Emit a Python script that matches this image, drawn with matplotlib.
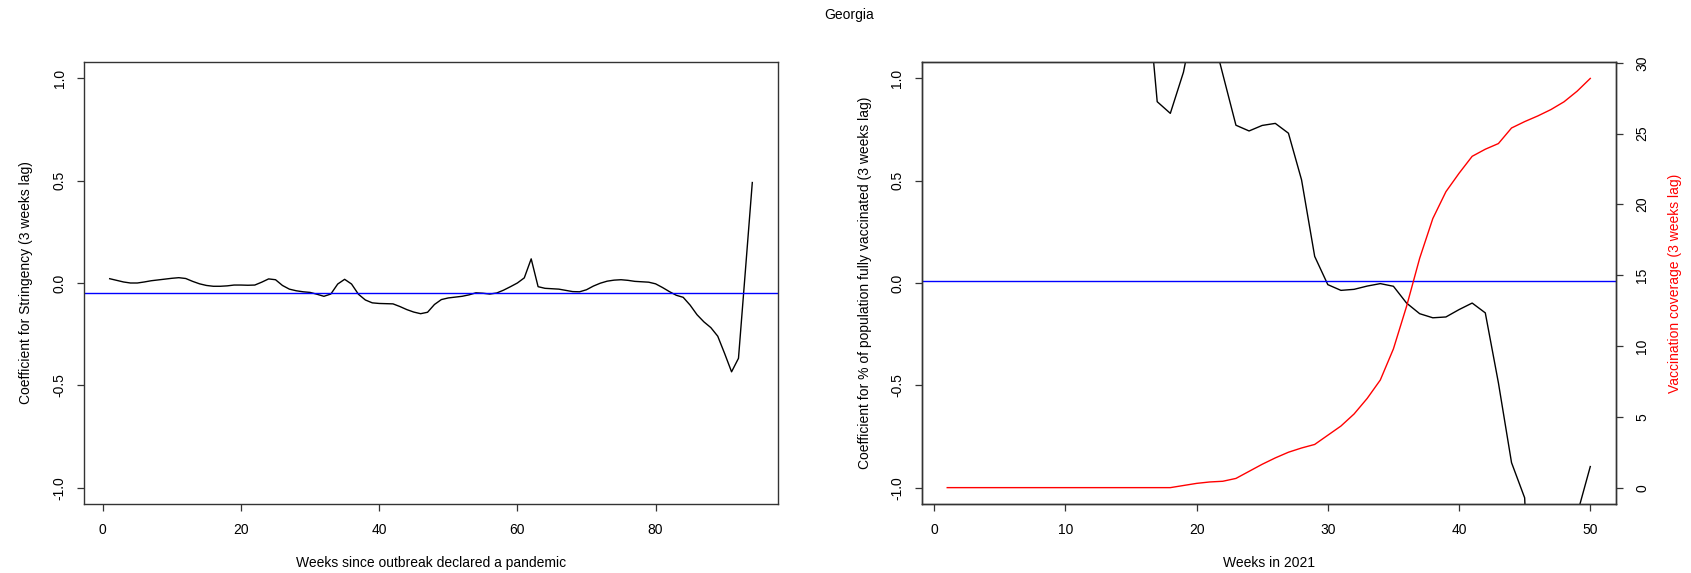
import numpy as np
import matplotlib
matplotlib.use("Agg")
import matplotlib.pyplot as plt

plt.rcParams["font.family"] = ["Liberation Sans", "DejaVu Sans"]
plt.rcParams["axes.unicode_minus"] = False
plt.rcParams["font.size"] = 10

country = "Georgia"

# weekly stringency coefficient since the pandemic declaration
weeks_pandemic = np.arange(1, 95)
stringency_coef = [
    0.021, 0.013, 0.005, 0.000, 0.000, 0.005, 0.011, 0.015, 0.019, 0.023,
    0.026, 0.022, 0.008, -0.004, -0.012, -0.016, -0.016, -0.014, -0.010, -0.010,
    -0.011, -0.010, 0.004, 0.020, 0.016, -0.012, -0.030, -0.038, -0.043, -0.046,
    -0.055, -0.065, -0.054, -0.005, 0.018, -0.005, -0.055, -0.083, -0.097, -0.100,
    -0.101, -0.102, -0.115, -0.130, -0.142, -0.150, -0.143, -0.105, -0.081, -0.073,
    -0.069, -0.065, -0.058, -0.048, -0.050, -0.054, -0.049, -0.035, -0.018, 0.000,
    0.025, 0.118, -0.018, -0.026, -0.028, -0.030, -0.036, -0.042, -0.043, -0.033,
    -0.015, -0.001, 0.009, 0.014, 0.016, 0.013, 0.008, 0.006, 0.004, -0.004,
    -0.022, -0.042, -0.060, -0.070, -0.108, -0.155, -0.190, -0.218, -0.260, -0.345,
    -0.434, -0.368, 0.060, 0.491,
]
stringency_mean = -0.049

# weekly vaccination coefficient and coverage in 2021
weeks_2021 = np.arange(1, 51)
vacc_coef = [
    2.5, 2.8, 3.0, 2.6, 2.2, 2.4, 2.9, 3.1, 2.7, 2.3,
    2.0, 2.2, 2.5, 2.3, 1.9, 1.6, 0.886, 0.829, 1.03, 1.35,
    1.27, 1.02, 0.771, 0.743, 0.770, 0.780, 0.732, 0.504, 0.130, -0.008,
    -0.036, -0.031, -0.015, -0.003, -0.016, -0.098, -0.150, -0.170, -0.166, -0.130,
    -0.098, -0.146, -0.488, -0.878, -1.05, -2.5, -2.8, -2.2, -1.13, -0.897,
]
vacc_mean = 0.011
vacc_coverage = [
    0, 0, 0, 0, 0, 0, 0, 0, 0, 0,
    0, 0, 0, 0, 0, 0, 0, 0, 0.15, 0.3,
    0.4, 0.45, 0.65, 1.15, 1.65, 2.1, 2.5, 2.8, 3.05, 3.7,
    4.35, 5.2, 6.3, 7.6, 9.8, 12.8, 16.2, 19.0, 20.9, 22.2,
    23.4, 23.9, 24.3, 25.4, 25.85, 26.25, 26.7, 27.25, 28.0, 28.9,
]

W, H = 1691, 573
fig = plt.figure(figsize=(W / 100, H / 100), dpi=100)


def px_axes(left, right, top, bottom):
    return fig.add_axes([left / W, 1 - bottom / H, (right - left) / W, (bottom - top) / H])


def style_axes(ax):
    for s in ax.spines.values():
        s.set_linewidth(1.0)
        s.set_color("#333333")
    ax.tick_params(length=5, width=0.9, color="#333333", labelsize=10, pad=9)
    ax.tick_params(axis="y", pad=7.5)
    ax.set_ylim(-1.08, 1.08)
    ax.set_yticks([-1.0, -0.5, 0.0, 0.5, 1.0])
    ax.set_yticklabels(["-1.0", "-0.5", "0.0", "0.5", "1.0"], rotation=90, va="center")


# left panel: stringency
ax1 = px_axes(84, 778, 62, 504)
ax1.plot(weeks_pandemic, stringency_coef, color="black", lw=1.0)
ax1.axhline(stringency_mean, color="blue", lw=1.0)
ax1.set_xlim(-2.72, 97.72)
ax1.set_xticks([0, 20, 40, 60, 80])
style_axes(ax1)
ax1.text(0.5, -0.133, "Weeks since outbreak declared a pandemic", transform=ax1.transAxes,
         ha="center", va="center")
ax1.text(-0.083, 0.5, "Coefficient for Stringency (3 weeks lag)", transform=ax1.transAxes,
         ha="center", va="center", rotation=90)

# right panel: vaccination
ax2 = px_axes(921.5, 1616, 62, 504)
ax2.plot(weeks_2021, vacc_coef, color="black", lw=1.0)
ax2.axhline(vacc_mean, color="blue", lw=1.0)
ax2.set_xlim(-0.96, 51.96)
ax2.set_xticks([0, 10, 20, 30, 40, 50])
style_axes(ax2)
ax2.text(0.5, -0.133, "Weeks in 2021", transform=ax2.transAxes, ha="center", va="center")
ax2.text(-0.081, 0.5, "Coefficient for % of population fully vaccinated (3 weeks lag)",
         transform=ax2.transAxes, ha="center", va="center", rotation=90)

ax3 = ax2.twinx()
ax3.plot(weeks_2021, vacc_coverage, color="red", lw=1.0)
ax3.set_ylim(-1.156, 30.06)
ax3.set_yticks([0, 5, 10, 15, 20, 25, 30])
ax3.set_yticklabels(["0", "5", "10", "15", "20", "25", "30"], rotation=90, va="center")
ax3.tick_params(length=5, width=0.9, color="#333333", labelsize=10, pad=9)
for s in ax3.spines.values():
    s.set_linewidth(1.0)
    s.set_color("#333333")
ax3.text(1.085, 0.5, "Vaccination coverage (3 weeks lag)", transform=ax3.transAxes,
         ha="center", va="center", rotation=90, color="red")

fig.text(849.5 / W, 1 - 15 / H, country, ha="center", va="center", fontsize=10)

fig.savefig("out.png", dpi=100)
